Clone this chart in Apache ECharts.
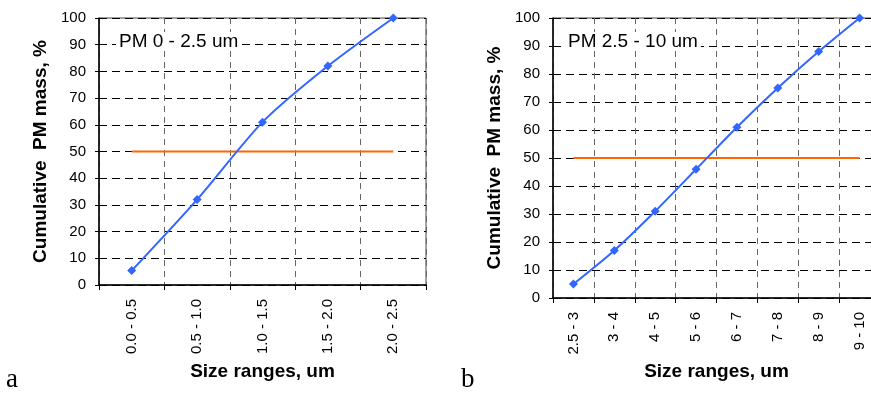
<!DOCTYPE html>
<html>
<head>
<meta charset="utf-8">
<script src="https://cdn.jsdelivr.net/npm/echarts@6/dist/echarts.min.js"></script>
<style>
html,body{margin:0;padding:0;background:#fff;}
#c{width:871px;height:396px;}
</style>
</head>
<body>
<div id="c"></div>
<script>
// ---- data ----
const catsA = ['0.0 - 0.5', '0.5 - 1.0', '1.0 - 1.5', '1.5 - 2.0', '2.0 - 2.5'];
const valsA = [5.4, 32, 61, 82, 100];
const refA = [50, 50, 50, 50, 50];
const catsB = ['2.5 - 3', '3 - 4', '4 - 5', '5 - 6', '6 - 7', '7 - 8', '8 - 9', '9 - 10'];
const valsB = [5, 17, 31, 46, 61, 75, 88, 100];
const refB = [50, 50, 50, 50, 50, 50, 50, 50];
const yMin = 0, yMax = 100, yStep = 10;
const titleA = 'PM 0 - 2.5 um';
const titleB = 'PM 2.5 - 10 um';
const yName = 'Cumulative  PM mass, %';
const xName = 'Size ranges, um';

const FONT = 'Arial, "Liberation Sans", sans-serif';
const chart = echarts.init(document.getElementById('c'), null, {renderer: 'canvas'});

function xAxis(idx, cats, gap) {
  return {
    type: 'category', gridIndex: idx, data: cats, boundaryGap: true,
    name: xName, nameLocation: 'middle', nameGap: gap,
    nameTextStyle: {fontFamily: FONT, fontSize: 19, fontWeight: 'bold', color: '#000'},
    axisLine: {lineStyle: {color: '#000', width: 1.5}},
    axisTick: {show: true, length: 5, lineStyle: {color: '#000'}},
    axisLabel: {rotate: 90, margin: 14, fontFamily: FONT, fontSize: 15, color: '#000', interval: 0},
    splitLine: {show: true, interval: 0, lineStyle: {color: '#666', width: 1, type: [6, 5]}}
  };
}
function yAxis(idx) {
  return {
    type: 'value', gridIndex: idx, min: yMin, max: yMax, interval: yStep,
    name: yName, nameLocation: 'middle', nameGap: 49, nameRotate: 90,
    nameTextStyle: {fontFamily: FONT, fontSize: 19, fontWeight: 'bold', color: '#000'},
    axisLine: {show: true, lineStyle: {color: '#000', width: 1.5}},
    axisTick: {show: true, length: 4, lineStyle: {color: '#000'}},
    axisLabel: {margin: 13, fontFamily: FONT, fontSize: 15, color: '#000'},
    splitLine: {show: true, lineStyle: {color: '#000', width: 1, type: [8, 5]}}
  };
}
function lineSeries(idx, vals) {
  return {
    type: 'line', xAxisIndex: idx, yAxisIndex: idx, data: vals, z: 5,
    smooth: 0.25, symbol: 'diamond', symbolSize: 9,
    lineStyle: {color: '#3366FF', width: 2},
    itemStyle: {color: '#3366FF'}
  };
}
function refSeries(idx, vals) {
  return {
    type: 'line', xAxisIndex: idx, yAxisIndex: idx, data: vals, z: 4,
    symbol: 'none', lineStyle: {color: '#FF6600', width: 2}
  };
}

chart.setOption({
  animation: false,
  backgroundColor: '#fff',
  grid: [
    {left: 99, top: 18, width: 327, height: 267, outerBoundsMode: 'none', containLabel: false, show: true, borderColor: '#444', borderWidth: 1, backgroundColor: 'transparent'},
    {left: 553, top: 18, width: 327, height: 280, outerBoundsMode: 'none', containLabel: false, show: true, borderColor: '#444', borderWidth: 1, backgroundColor: 'transparent'}
  ],
  xAxis: [xAxis(0, catsA, 77), xAxis(1, catsB, 64)],
  yAxis: [yAxis(0), yAxis(1)],
  series: [refSeries(0, refA), lineSeries(0, valsA), refSeries(1, refB), lineSeries(1, valsB)],
  graphic: [
    {type: 'text', left: 116, top: 32, z: 10, style: {text: titleA, font: '19px ' + FONT, fill: '#000', backgroundColor: '#fff', padding: [0, 3, 0, 3]}},
    {type: 'text', left: 565, top: 32, z: 10, style: {text: titleB, font: '19px ' + FONT, fill: '#000', backgroundColor: '#fff', padding: [0, 3, 0, 3]}},
    {type: 'text', left: 6, top: 366, z: 10, style: {text: 'a', font: '27px "Liberation Serif", "Times New Roman", serif', fill: '#000'}},
    {type: 'text', left: 461, top: 366, z: 10, style: {text: 'b', font: '27px "Liberation Serif", "Times New Roman", serif', fill: '#000'}}
  ]
});
</script>
</body>
</html>
